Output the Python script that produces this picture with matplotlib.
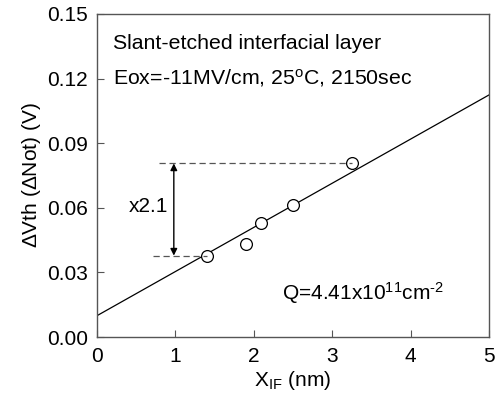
import numpy as np
import matplotlib.pyplot as plt

plt.rcParams['font.family'] = ['Liberation Sans', 'DejaVu Sans']
plt.rcParams['mathtext.fontset'] = 'custom'
plt.rcParams['mathtext.rm'] = 'Liberation Sans'
plt.rcParams['mathtext.it'] = 'Liberation Sans:italic'

# measured points
x_if = [1.40, 1.90, 2.09, 2.50, 3.25]
dvth = [0.0378, 0.0432, 0.0531, 0.0613, 0.0806]

# fitted line end points
fit_x = [0, 5]
fit_y = [0.0099, 0.1124]

fig = plt.figure(figsize=(5.01, 3.95), dpi=100)
ax = fig.add_axes([0.1936, 0.1468, 0.7824, 0.8178])

ax.plot(fit_x, fit_y, color='black', lw=0.9)
ax.plot(x_if, dvth, 'o', mfc='white', mec='black', ms=8.5, mew=0.9)

# dashed guide lines and arrow
ax.plot([0.72, x_if[0]], [dvth[0], dvth[0]], '--', color='#555555', lw=0.9, dashes=(5, 3))
ax.plot([0.79, x_if[-1]], [dvth[-1], dvth[-1]], '--', color='#555555', lw=0.9, dashes=(5, 3))
ax.annotate('', xy=(0.98, dvth[0]), xytext=(0.98, dvth[-1]),
            arrowprops=dict(arrowstyle='<|-|>', color='black', lw=1.0,
                            mutation_scale=10, shrinkA=0, shrinkB=0))
ax.text(0.66, 0.0605, 'x2.1', fontsize=15, ha='center', va='center')

ax.text(0.2, 0.1365, 'Slant-etched interfacial layer', fontsize=15.3, va='center')
ax.text(0.2, 0.1205, r'Eox=-11MV/cm, 25$^{\rm o}$C, 2150sec', fontsize=15.3, va='center')
ax.text(2.36, 0.0205, r'Q=4.41x10$^{\rm 11}$cm$^{\rm \text{-}2}$', fontsize=15, va='center')

ax.set_xlim(0, 5)
ax.set_ylim(0, 0.15)
ax.set_xticks([0, 1, 2, 3, 4, 5])
ax.set_yticks([0, 0.03, 0.06, 0.09, 0.12, 0.15])
ax.set_yticklabels(['0.00', '0.03', '0.06', '0.09', '0.12', '0.15'])
ax.tick_params(direction='in', length=5, labelsize=15, color='#555555')
ax.tick_params(axis='x', pad=7)
ax.tick_params(axis='y', pad=6.5)
for s in ax.spines.values():
    s.set_color('#555555')
    s.set_linewidth(1.0)

ax.set_xlabel(r'X$_{\rm IF}$ (nm)', fontsize=15, labelpad=2)
ax.set_ylabel(r'$\Delta$Vth ($\Delta$Not) (V)', fontsize=15, labelpad=3)

fig.savefig('out.png', dpi=100)
